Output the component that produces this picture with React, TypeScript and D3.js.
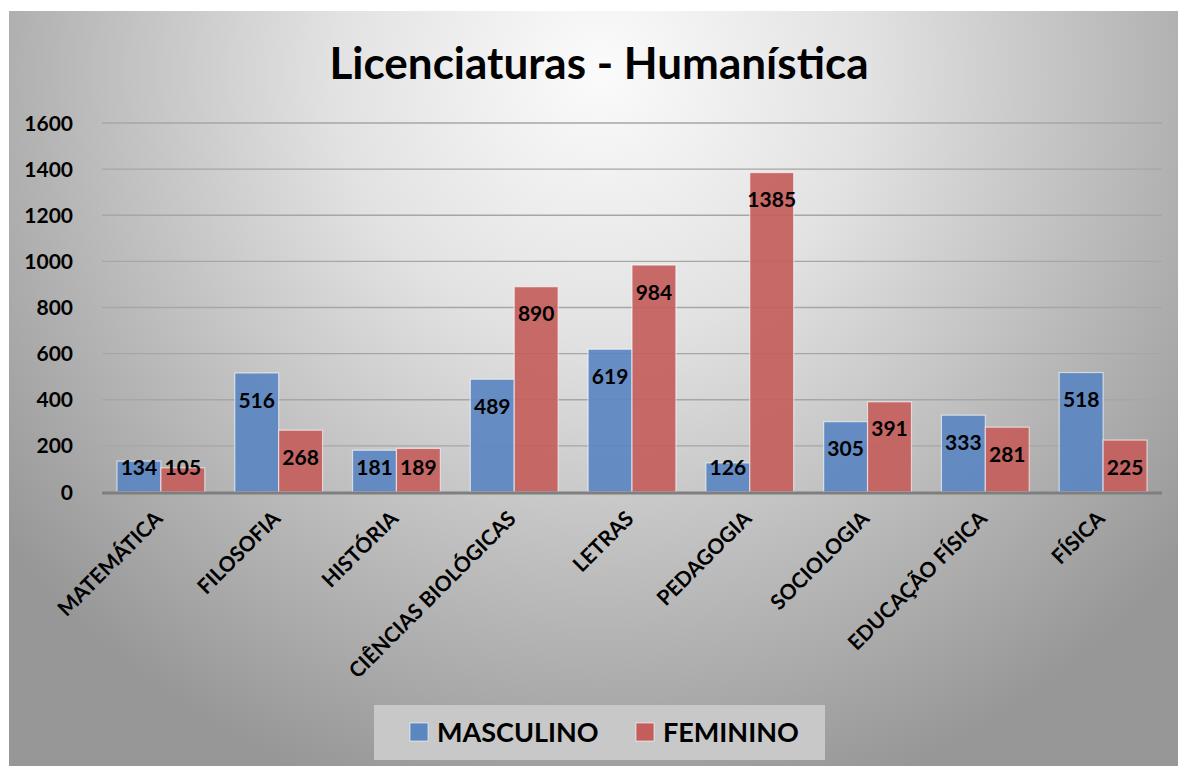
import React from "react";
import * as d3 from "d3";

const categories = ["MATEMÁTICA", "FILOSOFIA", "HISTÓRIA", "CIÊNCIAS BIOLÓGICAS", "LETRAS", "PEDAGOGIA", "SOCIOLOGIA", "EDUCAÇÃO FÍSICA", "FÍSICA"];
const masculino = [134, 516, 181, 489, 619, 126, 305, 333, 518];
const feminino = [105, 268, 189, 890, 984, 1385, 391, 281, 225];
const seriesNames = ["MASCULINO", "FEMININO"];
const seriesColors = ["#5B87C1", "#C45E5C"];
const yTicks = [0, 200, 400, 600, 800, 1000, 1200, 1400, 1600];
const title = "Licenciaturas - Humanística";

const W = 1178, H = 766;
const FONT = "Lato, 'Open Sans', sans-serif";

export default function App() {
  const x0 = d3.scaleBand<string>().domain(categories).range([102, 1162]).paddingInner(0).paddingOuter(0);
  const bw = x0.bandwidth();
  const inner = d3.scaleBand<number>().domain([0, 1]).range([15 / 117.8 * bw, bw - 15 / 117.8 * bw]).padding(0);
  const y = d3.scaleLinear().domain([0, 1600]).range([492, 123]);
  const series = [masculino, feminino];

  return (
    <svg width={W} height={H} style={{ position: "absolute", left: 0, top: 0 }}>
      <defs>
        <radialGradient id="bg" gradientUnits="userSpaceOnUse" cx={600} cy={70} r={760}>
          <stop offset="0" stopColor="#fbfbfb" />
          <stop offset="0.35" stopColor="#e2e2e2" />
          <stop offset="0.75" stopColor="#b3b3b3" />
          <stop offset="1" stopColor="#979797" />
        </radialGradient>
      </defs>
      <rect x={0} y={0} width={W} height={H} fill="#ffffff" />
      <rect x={9} y={11} width={W - 9} height={H - 11} fill="url(#bg)" />
      <text x={599} y={79} textAnchor="middle" fontFamily={FONT} fontWeight={700} fontSize={44} fill="#000">{title}</text>
      {yTicks.map((t) => (
        <g key={t}>
          {t > 0 && <line x1={102} x2={1162} y1={y(t)} y2={y(t)} stroke="#a6a6a6" strokeWidth={1.3} />}
          <text x={73} y={y(t)} dy="0.36em" textAnchor="end" fontFamily={FONT} fontWeight={700} fontSize={21} fill="#000">{t}</text>
        </g>
      ))}
      {categories.map((c, i) => (
        <g key={c} transform={`translate(${x0(c)},0)`}>
          {series.map((s, j) => {
            const v = s[i];
            const bx = inner(j)!;
            const w = inner.bandwidth();
            const top = y(v);
            const ly = Math.min(top + 27, y(0) - 25);
            return (
              <g key={j}>
                <rect x={bx} y={top} width={w} height={y(0) - top} fill={seriesColors[j]} fillOpacity={0.92} stroke="#ffffff" strokeOpacity={0.6} strokeWidth={1.2} />
                <text x={bx + w / 2} y={ly} dy="0.36em" textAnchor="middle" fontFamily={FONT} fontWeight={700} fontSize={21} fill="#000">{v}</text>
              </g>
            );
          })}
        </g>
      ))}
      <line x1={102} x2={1162} y1={y(0) + 1} y2={y(0) + 1} stroke="#7f7f7f" strokeWidth={3} />
      {categories.map((c) => {
        const cx = x0(c)! + bw / 2;
        return (
          <text key={c} transform={`translate(${cx + 3},${520}) rotate(-45)`} textAnchor="end" fontFamily={FONT} fontWeight={700} fontSize={21} fill="#000">{c}</text>
        );
      })}
      <rect x={374} y={705} width={451} height={55} fill="#c8c8c8" />
      {seriesNames.map((n, j) => {
        const lx = [410, 636][j];
        return (
          <g key={n}>
            <rect x={lx} y={723} width={18} height={18} fill={seriesColors[j]} stroke="#ffffff" strokeOpacity={0.6} strokeWidth={1} />
            <text x={lx + 27} y={732} dy="0.36em" fontFamily={FONT} fontWeight={700} fontSize={27} fill="#000">{n}</text>
          </g>
        );
      })}
    </svg>
  );
}
